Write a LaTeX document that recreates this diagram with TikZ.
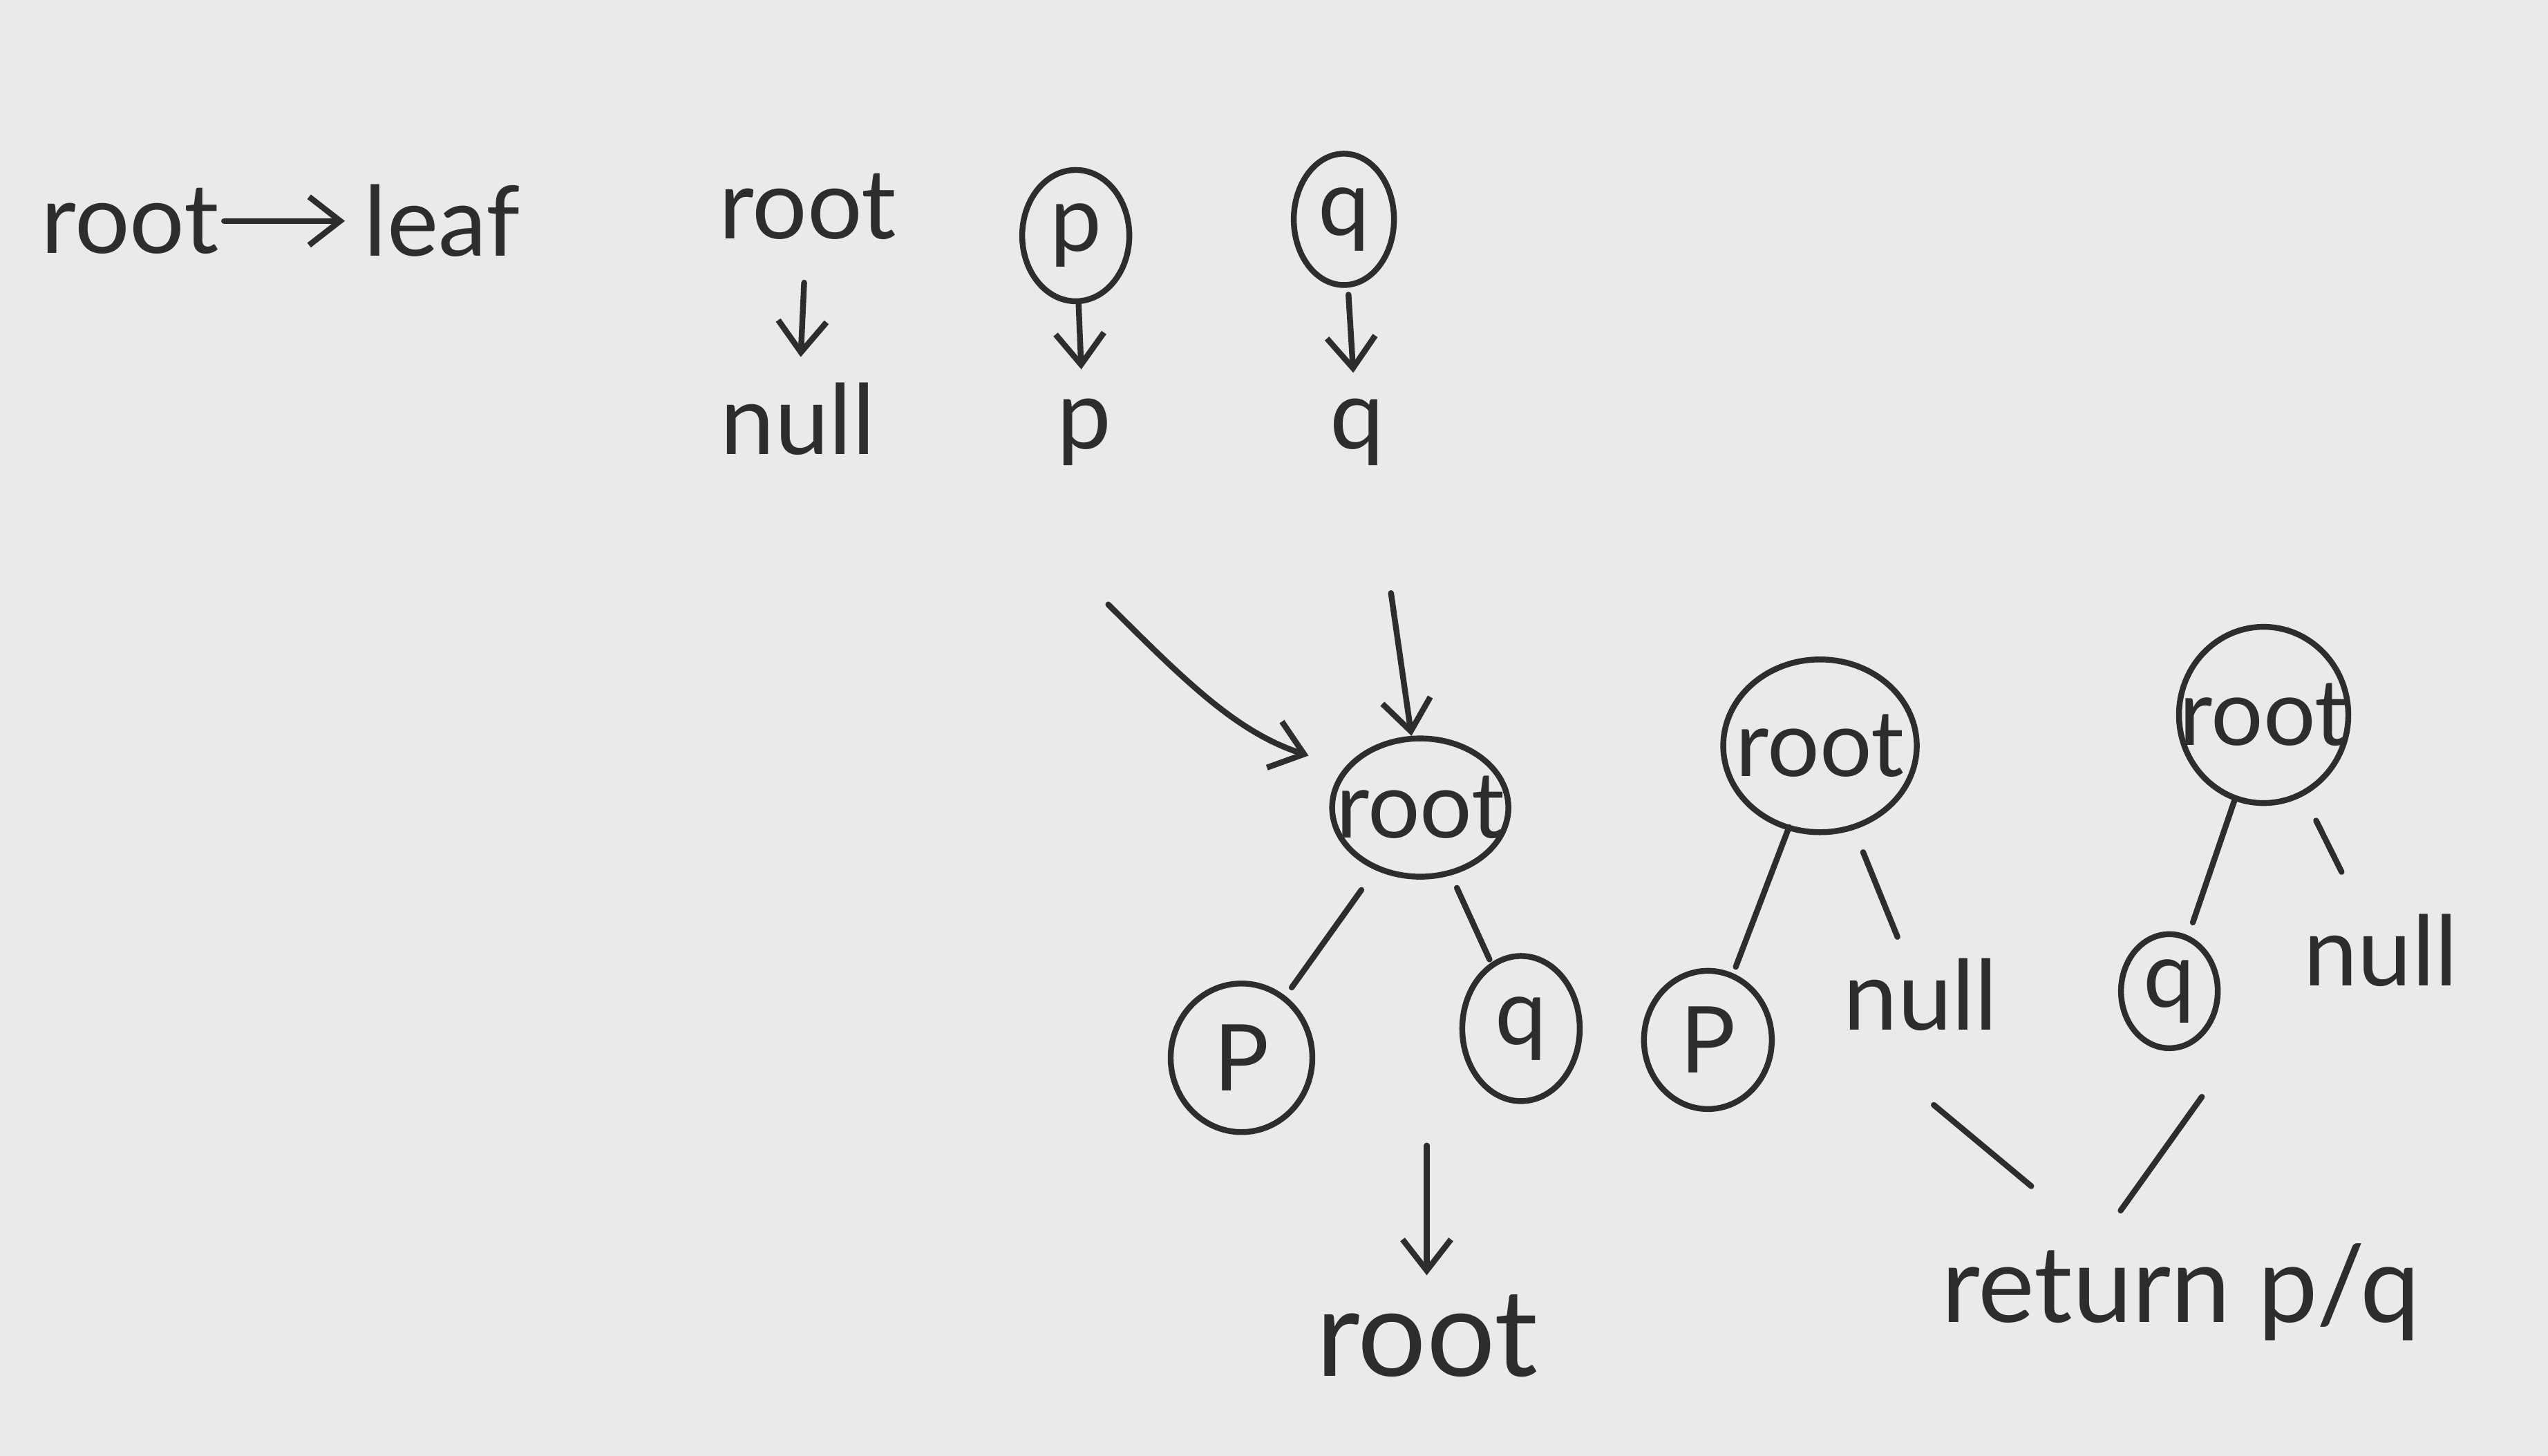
\documentclass[tikz,border=0pt]{standalone}
\usepackage{fontspec}
\setmainfont{Lato}
\usetikzlibrary{arrows.meta,shapes.geometric}
\definecolor{paper}{RGB}{234,234,234}
\definecolor{ink}{RGB}{45,45,45}
\newcommand{\zw}[1]{\makebox[0pt]{#1}}
\begin{document}
\begin{tikzpicture}[x=0.02351cm,y=-0.02351cm,
  every node/.style={text=ink},
  txt/.style={font=\fontsize{40}{48}\selectfont, inner sep=2pt},
  bigtxt/.style={font=\fontsize{50}{60}\selectfont, inner sep=2pt},
  oval/.style={draw=ink, line width=2.4pt, ellipse, inner sep=0pt, font=\fontsize{38}{46}\selectfont},
  arr/.style={draw=ink, line width=2.4pt, line cap=round, -{Straight Barb[length=0.45cm,width=0.7cm]}},
  edge/.style={draw=ink, line width=2.4pt, line cap=round}]
\fill[paper] (0,0) rectangle (1568,896);
\useasboundingbox (0,0) rectangle (1568,896);
% root -> leaf
\node[txt] (a1) at (80,136) {root};
\node[txt] (a2) at (272,136) {leaf};
\draw[arr, shorten >=0.2cm] (a1) -- (a2);
% root -> null
\node[txt] (b1) at (497,127) {root};
\node[txt] (b2) at (491,258) {null};
\draw[arr, shorten <=0.55cm, shorten >=0.3cm] (b1) -- (b2);
% p -> p
\node[oval, minimum width=1.55cm, minimum height=1.9cm] (c1) at (662,145) {\zw{p}};
\node[txt] (c2) at (667,266) {p};
\draw[arr, shorten >=0.35cm] (c1) -- (c2);
% q -> q
\node[oval, minimum width=1.45cm, minimum height=1.9cm] (d1) at (827,135) {\zw{q}};
\node[txt] (d2) at (835,266) {q};
\draw[arr, shorten <=0.1cm, shorten >=0.3cm] (d1) -- (d2);
% tree 1
\node[oval, minimum width=2.55cm, minimum height=2.0cm] (e1) at (874,497) {\zw{root}};
\node[oval, minimum width=2.05cm, minimum height=2.15cm] (e2) at (764,651) {\zw{P}};
\node[oval, minimum width=1.7cm, minimum height=2.1cm] (e3) at (936,633) {\zw{q}};
\coordinate (s1) at (682,372);
\coordinate (s2) at (856,365);
\draw[arr, shorten >=0.55cm] (s1) to[out=-45, in=162] (e1.152);
\draw[arr] (s2) -- (e1.97);
\draw[edge, shorten <=0.35cm, shorten >=0.15cm] (e1) -- (e2);
\draw[edge, shorten <=0.2cm, shorten >=0.05cm] (e1) -- (e3);
\node[bigtxt] (e4) at (878,822) {root};
\coordinate (s3) at (878,705);
\draw[arr, shorten >=0.2cm] (s3) -- (e4.north);
% tree 2
\node[oval, minimum width=2.8cm, minimum height=2.5cm] (f1) at (1120,459) {\zw{root}};
\node[oval, minimum width=1.85cm, minimum height=2.0cm] (f2) at (1051,640) {\zw{P}};
\node[txt] (f3) at (1182,612) {null};
\draw[edge, shorten <=-0.05cm, shorten >=0.1cm] (f1) -- (f2);
\draw[edge, shorten <=0.35cm, shorten >=0.25cm] (f1) -- (f3);
% tree 3
\node[oval, minimum width=2.45cm, minimum height=2.55cm] (g1) at (1393,440) {\zw{root}};
\node[oval, minimum width=1.4cm, minimum height=1.65cm] (g2) at (1335,610) {\zw{q}};
\node[txt] (g3) at (1465,585) {null};
\draw[edge, shorten >=0.2cm] (g1) -- (g2);
\draw[edge, shorten <=0.4cm, shorten >=0.6cm] (g1) -- (g3);
% return
\node[txt, font=\fontsize{44}{52}\selectfont] (h) at (1342,795) {return p/q};
\coordinate (h1) at (1190,680);
\coordinate (h2) at (1250,730);
\coordinate (h3) at (1355,675);
\coordinate (h4) at (1305,745);
\draw[edge] (h1) -- (h2);
\draw[edge] (h3) -- (h4);
\end{tikzpicture}
\end{document}
